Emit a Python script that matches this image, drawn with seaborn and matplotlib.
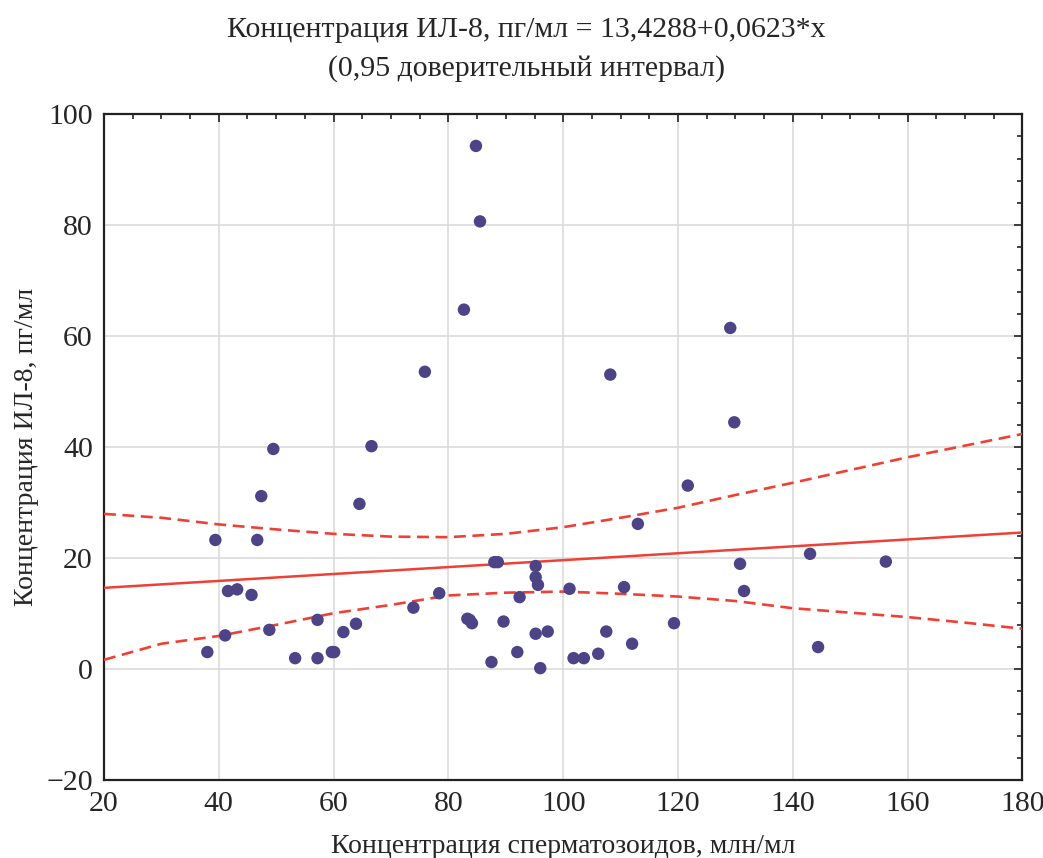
import matplotlib.pyplot as plt
import numpy as np
import pandas as pd
import seaborn as sns
from matplotlib.ticker import MultipleLocator

sns.set_style("white")
plt.rcParams['font.family'] = ['Liberation Serif', 'DejaVu Serif']

# sperm concentration (x) vs IL-8 concentration (y)
sperm = [38.0, 39.4, 41.1, 41.6, 43.2, 45.7, 46.7, 47.4, 48.8, 49.5,
         53.3, 57.2, 57.2, 59.7, 60.1, 61.7, 63.9, 64.5, 66.6, 73.9,
         75.9, 78.4, 82.7, 83.3, 83.7, 84.1, 84.8, 85.5, 87.5, 88.0,
         88.6, 89.6, 92.0, 92.4, 95.2, 95.2, 95.6, 95.2, 96.0, 97.3,
         101.1, 101.8, 103.6, 106.1, 107.5, 108.2, 110.6, 112.0, 113.0, 119.3,
         121.7, 129.1, 129.8, 130.8, 131.5, 143.0, 144.4, 156.2]
il8 = [3.1, 23.3, 6.1, 14.1, 14.4, 13.4, 23.3, 31.2, 7.1, 39.7,
       2.0, 2.0, 8.9, 3.1, 3.1, 6.7, 8.2, 29.8, 40.2, 11.1,
       53.6, 13.7, 64.8, 9.1, 8.9, 8.3, 94.3, 80.7, 1.3, 19.3,
       19.3, 8.6, 3.1, 13.0, 18.6, 16.6, 15.2, 6.4, 0.2, 6.8,
       14.5, 2.0, 2.0, 2.8, 6.8, 53.1, 14.8, 4.6, 26.2, 8.3,
       33.1, 61.5, 44.5, 19.0, 14.1, 20.8, 4.0, 19.4]

# regression from the title
intercept = 13.4288
slope = 0.0623

# 0.95 confidence band
ci_x = [20, 30, 40, 50, 60, 70, 80, 90, 100, 110, 120, 130, 140, 150, 160, 170, 180]
ci_upper = [28.0, 27.3, 26.1, 25.2, 24.4, 23.9, 23.8, 24.4, 25.6, 27.3,
            29.1, 31.4, 33.6, 35.9, 38.2, 40.3, 42.4]
ci_lower = [1.7, 4.6, 6.0, 8.0, 10.1, 11.6, 13.3, 13.8, 14.0, 13.6,
            13.1, 12.3, 11.0, 10.2, 9.4, 8.4, 7.3]

x_range = [20, 180]
y_range = [-20, 100]

POINT_COLOR = '#4c4487'
LINE_COLOR = '#ee4035'

df_points = pd.DataFrame({'x': sperm, 'y': il8})
df_fit = pd.DataFrame({'x': x_range,
                       'y': [intercept + slope * v for v in x_range]})
df_ci = pd.DataFrame({'x': ci_x, 'upper': ci_upper, 'lower': ci_lower})

fig = plt.figure(figsize=(10.43, 8.58), dpi=100)
ax = fig.add_axes([0.0997, 0.0906, 0.8806, 0.7762])

sns.lineplot(data=df_fit, x='x', y='y', color=LINE_COLOR, lw=1.8, ax=ax, zorder=3)
for col in ['upper', 'lower']:
    sns.lineplot(data=df_ci, x='x', y=col, color=LINE_COLOR, lw=1.9,
                 linestyle=(0, (4.5, 2.5)), ax=ax, zorder=3)
sns.scatterplot(data=df_points, x='x', y='y', color=POINT_COLOR, s=80,
                edgecolor='none', ax=ax, zorder=4)

ax.set_xlim(x_range)
ax.set_ylim(y_range)
ax.xaxis.set_major_locator(MultipleLocator(20))
ax.xaxis.set_minor_locator(MultipleLocator(5))
ax.yaxis.set_major_locator(MultipleLocator(20))
ax.yaxis.set_minor_locator(MultipleLocator(4))
ax.grid(True, which='major', color='#d9d9d9', lw=1.1)
ax.set_axisbelow(True)
ax.tick_params(which='both', direction='in', top=True, right=True,
               color='#222222', labelsize=21.5)
ax.tick_params(which='major', length=6, width=1.2, pad=8)
ax.tick_params(which='minor', length=3.5, width=1.2)
for sp in ax.spines.values():
    sp.set_color('#222222')
    sp.set_linewidth(1.6)

ax.set_xlabel('Концентрация сперматозоидов, млн/мл', fontsize=20, labelpad=12)
ax.set_ylabel('Концентрация ИЛ-8, пг/мл', fontsize=20, labelpad=5)

fig.text(0.505, 0.965, 'Концентрация ИЛ-8, пг/мл = 13,4288+0,0623*x',
         ha='center', va='center', fontsize=21.5)
fig.text(0.505, 0.920, '(0,95 доверительный интервал)',
         ha='center', va='center', fontsize=21.5)

plt.savefig('out.png', dpi=100)
